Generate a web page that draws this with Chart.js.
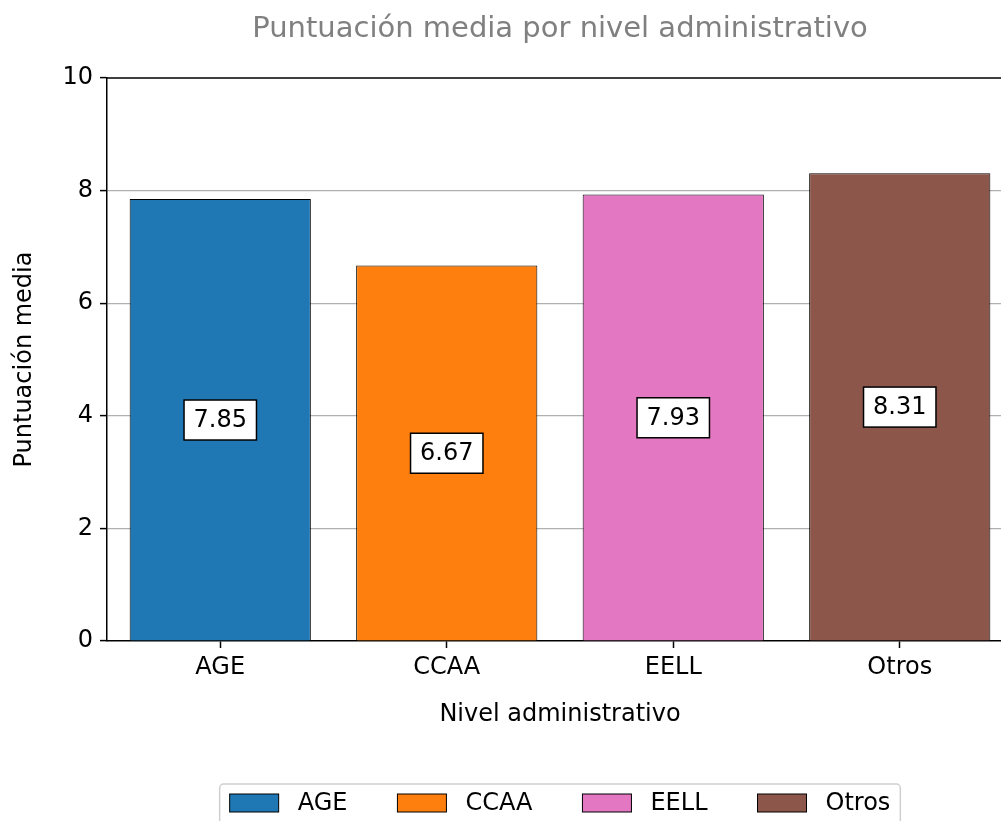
<!DOCTYPE html>
<html>
<head>
<meta charset="utf-8">
<script src="https://cdn.jsdelivr.net/npm/chart.js@4.4.0/dist/chart.umd.min.js"></script>
<style>
  body { margin: 0; overflow: hidden; background: #fff; }
  canvas { display: block; }
</style>
</head>
<body>
<canvas id="myChart" width="1015" height="821"></canvas>
<script>
const niveles = ['AGE', 'CCAA', 'EELL', 'Otros']
const puntuaciones = [7.85, 6.67, 7.93, 8.31]
const colores = ['#1f77b4', '#ff7f0e', '#e377c2', '#8c564b']
const yTicks = [0, 2, 4, 6, 8, 10]

const FONT = 'DejaVu Sans'
Chart.defaults.font.family = FONT
Chart.defaults.color = '#000'

// titulo, marco superior, etiquetas y leyenda
const extras = {
  id: 'extras',
  afterDatasetsDraw(chart) {
    const { ctx, chartArea } = chart
    const cx = (chartArea.left + chartArea.right) / 2
    ctx.save()

    // borde superior
    ctx.strokeStyle = '#000'
    ctx.lineWidth = 1.5
    ctx.beginPath()
    ctx.moveTo(chartArea.left, chartArea.top)
    ctx.lineTo(chartArea.right, chartArea.top)
    ctx.lineTo(chartArea.right, chartArea.bottom)
    ctx.stroke()

    // etiquetas con caja
    const meta = chart.getDatasetMeta(0)
    const y = chart.scales.y
    ctx.font = '24px ' + FONT
    ctx.textAlign = 'center'
    ctx.textBaseline = 'middle'
    meta.data.forEach((bar, i) => {
      const txt = puntuaciones[i].toFixed(2)
      const w = ctx.measureText(txt).width + 19
      const h = 40
      const yy = y.getPixelForValue(puntuaciones[i] / 2)
      ctx.fillStyle = '#fff'
      ctx.fillRect(bar.x - w / 2, yy - h / 2, w, h)
      ctx.lineWidth = 1.5
      ctx.strokeStyle = '#000'
      ctx.strokeRect(bar.x - w / 2, yy - h / 2, w, h)
      ctx.fillStyle = '#000'
      ctx.fillText(txt, bar.x, yy + 1)
    })

    // titulo
    ctx.font = '29px ' + FONT
    ctx.fillStyle = '#808080'
    ctx.fillText('Puntuación media por nivel administrativo', cx, 29)

    // leyenda
    ctx.font = '24px ' + FONT
    const boxW = 49, boxH = 18, gap = 19, spacing = 50
    const anchos = niveles.map(n => ctx.measureText(n).width)
    const total = anchos.reduce((a, b) => a + b + boxW + gap, 0) + spacing * (niveles.length - 1)
    let x = cx - total / 2
    const ly = 803
    ctx.strokeStyle = '#d0d0d0'
    ctx.lineWidth = 1.5
    ctx.beginPath()
    ctx.roundRect(x - 10, 784, total + 20, 60, 4)
    ctx.fillStyle = 'rgba(255,255,255,0.8)'
    ctx.fill()
    ctx.stroke()
    ctx.textAlign = 'left'
    niveles.forEach((n, i) => {
      ctx.fillStyle = colores[i]
      ctx.fillRect(x, ly - boxH / 2, boxW, boxH)
      ctx.strokeStyle = '#000'
      ctx.lineWidth = 1
      ctx.strokeRect(x, ly - boxH / 2, boxW, boxH)
      ctx.fillStyle = '#000'
      ctx.fillText(n, x + boxW + gap, ly + 1)
      x += boxW + gap + anchos[i] + spacing
    })
    ctx.restore()
  }
}

new Chart(document.getElementById('myChart'), {
  type: 'bar',
  data: {
    labels: niveles,
    datasets: [{
      label: 'Puntuación media',
      data: puntuaciones,
      backgroundColor: colores,
      borderColor: '#000',
      borderWidth: 1,
      categoryPercentage: 0.8,
      barPercentage: 1
    }]
  },
  options: {
    responsive: false,
    animation: false,
    layout: { padding: { top: 78, right: 2, bottom: 80, left: 0 } },
    plugins: {
      legend: { display: false },
      title: { display: false },
      tooltip: { enabled: false }
    },
    scales: {
      x: {
        offset: true,
        grid: { display: true, drawOnChartArea: false, offset: false, tickLength: 7, tickColor: '#000', tickWidth: 1.5 },
        border: { color: '#000', width: 1.5 },
        ticks: { font: { size: 24 }, padding: 5, color: '#000' },
        title: { display: true, text: 'Nivel administrativo', font: { size: 24 }, padding: { top: 0, bottom: 12 } },
        afterFit: (s) => { s.height = 100 }
      },
      y: {
        min: 0,
        max: 10,
        afterBuildTicks: (s) => { s.ticks = yTicks.map(v => ({ value: v })) },
        grid: {
          color: (c) => (c.tick && (c.tick.value === 0 || c.tick.value === 10)) ? 'rgba(0,0,0,0)' : '#b0b0b0',
          lineWidth: 1.2,
          tickLength: 7,
          tickColor: '#000',
          tickWidth: 1.5
        },
        border: { color: '#000', width: 1.5 },
        ticks: { font: { size: 24 }, padding: 7, color: '#000' },
        title: { display: true, text: 'Puntuación media', font: { size: 24 }, padding: { top: 10, bottom: 0 } },
        afterFit: (s) => { s.width = 107 }
      }
    }
  },
  plugins: [extras]
})
</script>
</body>
</html>
